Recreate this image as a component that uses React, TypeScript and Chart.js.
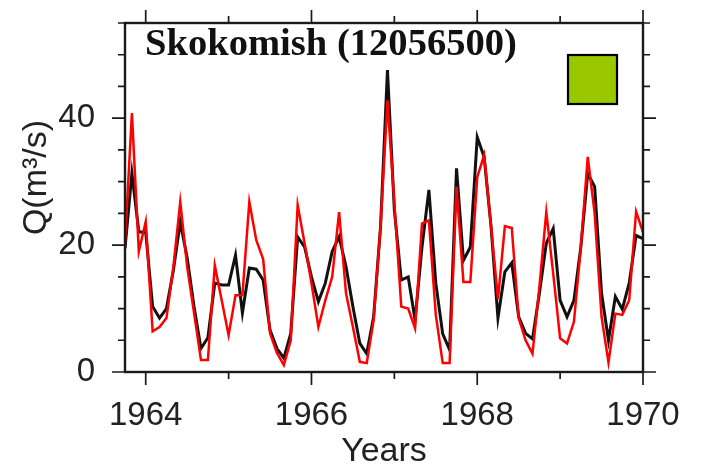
import React, { useEffect, useRef } from 'react';
import { Chart, registerables } from 'chart.js';

Chart.register(...registerables);

// Monthly series, first point = October 1963 (1963.75), last = January 1970
const START_YEAR = 1963.75;
const OBSERVED = [
  19.5, 31.3, 22.1, 22.0, 10.3, 8.5, 10.0, 16.0, 23.6, 18.0, 10.3, 3.7,
  5.4, 14.0, 13.7, 13.7, 18.4, 9.3, 16.4, 16.2, 14.5, 6.6, 3.7, 2.2,
  6.1, 21.3, 19.7, 15.0, 11.1, 14.0, 19.0, 21.3, 16.6, 10.3, 4.5, 2.9,
  8.7, 22.9, 47.6, 25.5, 14.5, 15.0, 8.2, 19.7, 28.7, 14.0, 6.0, 3.5,
  32.1, 17.6, 19.7, 37.0, 33.9, 22.9, 8.5, 15.8, 17.2, 8.7, 6.1, 5.2,
  12.4, 20.3, 22.6, 11.3, 8.7, 11.3, 19.7, 31.3, 29.2, 12.4, 5.0, 11.9,
  9.9, 14.0, 21.5, 21.0,
];
const SIMULATED = [
  20.3, 40.8, 19.0, 23.7, 6.4, 7.1, 8.5, 16.5, 26.8, 16.6, 9.3, 1.9,
  1.9, 16.8, 11.3, 5.8, 12.1, 12.1, 26.8, 20.8, 17.8, 6.1, 3.0, 1.1,
  5.0, 26.3, 20.3, 14.0, 7.1, 11.3, 15.0, 25.2, 12.4, 7.1, 1.6, 1.4,
  8.2, 22.9, 42.8, 26.6, 10.3, 10.0, 6.9, 23.4, 23.9, 9.0, 1.4, 1.4,
  29.2, 14.2, 14.2, 30.7, 34.2, 22.9, 11.5, 23.0, 22.7, 8.5, 5.0, 2.9,
  13.4, 25.2, 15.5, 5.3, 4.5, 7.9, 19.7, 33.9, 25.0, 8.7, 1.5, 9.2,
  9.0, 11.3, 25.3, 22.0,
];
const X_MIN = 1963.75;
const X_MAX = 1970;
const Y_MIN = 0;
const Y_MAX = 55;
const X_MAJOR = [1964, 1966, 1968, 1970];
const X_MINOR = [1965, 1967, 1969];
const Y_MAJOR = [0, 20, 40];
const Y_MINOR = [5, 10, 15, 25, 30, 35, 45, 50, 55];
const TITLE = 'Skokomish (12056500)';
const X_TITLE = 'Years';
const Y_TITLE = 'Q(m³/s)';

const TIMES = OBSERVED.map((_, i) => START_YEAR + i / 12);

const framePlugin = {
  id: 'frameAndText',
  afterDraw(chart: any) {
    const { ctx, chartArea } = chart;
    const { left, right, top, bottom } = chartArea;
    const xs = chart.scales.x;
    const ys = chart.scales.y;
    ctx.save();
    ctx.strokeStyle = '#1a1a1a';
    ctx.lineWidth = 2.4;
    ctx.strokeRect(left, top, right - left, bottom - top);

    ctx.lineWidth = 1.7;
    ctx.beginPath();
    const xt = (v: number, len: number) => {
      const px = xs.getPixelForValue(v);
      ctx.moveTo(px, bottom);
      ctx.lineTo(px, bottom + len);
      ctx.moveTo(px, top);
      ctx.lineTo(px, top - len);
    };
    const yt = (v: number, len: number) => {
      const py = ys.getPixelForValue(v);
      ctx.moveTo(left, py);
      ctx.lineTo(left - len, py);
      ctx.moveTo(right, py);
      ctx.lineTo(right + len, py);
    };
    X_MAJOR.forEach((v) => xt(v, 13));
    X_MINOR.forEach((v) => xt(v, 7));
    Y_MAJOR.forEach((v) => yt(v, 13));
    Y_MINOR.forEach((v) => yt(v, 7));
    ctx.stroke();

    // legend square
    ctx.fillStyle = '#99c800';
    ctx.fillRect(right - 75, top + 32, 49, 49);
    ctx.strokeStyle = '#000';
    ctx.lineWidth = 2.2;
    ctx.strokeRect(right - 75, top + 32, 49, 49);

    // title
    ctx.fillStyle = '#111';
    ctx.font = 'bold 38.6px "Liberation Serif"';
    ctx.textAlign = 'left';
    ctx.textBaseline = 'alphabetic';
    ctx.fillText(TITLE, left + 20, top + 32);

    // axis titles
    ctx.fillStyle = '#222';
    ctx.font = '34px "Liberation Sans"';
    ctx.textAlign = 'center';
    ctx.fillText(X_TITLE, (left + right) / 2, bottom + 89);

    ctx.translate(46, (top + bottom) / 2 - 20);
    ctx.rotate(-Math.PI / 2);
    ctx.fillText(Y_TITLE, 0, 0);
    ctx.restore();
  },
};

export default function App() {
  const ref = useRef<HTMLCanvasElement | null>(null);
  useEffect(() => {
    if (!ref.current) return;
    const tickFont = { family: 'Liberation Sans', size: 33 };
    const chart = new Chart(ref.current, {
      type: 'line',
      data: {
        datasets: [
          {
            label: 'Simulated',
            data: TIMES.map((t, i) => ({ x: t, y: SIMULATED[i] })),
            borderColor: '#ff0000',
            borderWidth: 2.5,
            pointRadius: 0,
            tension: 0,
            order: 0,
          },
          {
            label: 'Observed',
            data: TIMES.map((t, i) => ({ x: t, y: OBSERVED[i] })),
            borderColor: '#111111',
            borderWidth: 3,
            pointRadius: 0,
            tension: 0,
            order: 1,
          },
        ],
      },
      options: {
        animation: false,
        responsive: false,
        devicePixelRatio: 1,
        layout: { padding: { left: 0, right: 59, top: 23, bottom: 0 } },
        plugins: { legend: { display: false }, tooltip: { enabled: false }, title: { display: false } },
        scales: {
          x: {
            type: 'linear',
            min: X_MIN,
            max: X_MAX,
            afterBuildTicks: (s: any) => {
              s.ticks = X_MAJOR.map((v) => ({ value: v }));
            },
            afterFit: (s: any) => {
              s.height = 94;
              s.paddingLeft = 0;
              s.paddingRight = 0;
              s.paddingTop = 0;
              s.paddingBottom = 0;
            },
            ticks: {
              font: tickFont,
              color: '#222',
              padding: 24,
              maxRotation: 0,
              autoSkip: false,
              callback: (v: any) => String(v),
            },
            grid: { display: false, drawTicks: false },
            border: { display: false },
          },
          y: {
            min: Y_MIN,
            max: Y_MAX,
            afterBuildTicks: (s: any) => {
              s.ticks = Y_MAJOR.map((v) => ({ value: v }));
            },
            afterFit: (s: any) => {
              s.width = 125;
              s.paddingLeft = 0;
              s.paddingRight = 0;
              s.paddingTop = 0;
              s.paddingBottom = 0;
            },
            ticks: {
              font: tickFont,
              color: '#222',
              padding: 30,
              callback: (v: any) => String(v),
            },
            grid: { display: false, drawTicks: false },
            border: { display: false },
          },
        },
      },
      plugins: [framePlugin],
    } as any);
    return () => chart.destroy();
  }, []);
  return (
    <div style={{ position: 'absolute', left: 0, top: 0, width: 702, height: 466, background: '#fff' }}>
      <canvas ref={ref} width={702} height={466} style={{ width: 702, height: 466, display: 'block' }} />
    </div>
  );
}
